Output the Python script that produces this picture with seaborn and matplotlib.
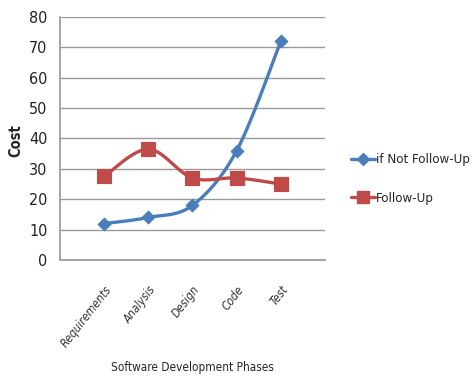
import numpy as np
import pandas as pd
import matplotlib
matplotlib.use("Agg")
import matplotlib.pyplot as plt
import seaborn as sns
from matplotlib.lines import Line2D
from matplotlib import font_manager

phases = ["Requirements", "Analysis", "Design", "Code", "Test"]
not_follow_up = [12, 14, 18, 36, 72]
follow_up = [27.5, 36.5, 27, 27, 25]
y_ticks = [0, 10, 20, 30, 40, 50, 60, 70, 80]

sns.set_theme(style="white")
cond = any(f.name == 'DejaVu Sans' and f.stretch == 'condensed' for f in font_manager.fontManager.ttflist)
if cond:
    plt.rcParams['font.family'] = ['DejaVu Sans']
    plt.rcParams['font.stretch'] = 'condensed'
else:
    plt.rcParams['font.family'] = ['Liberation Sans', 'DejaVu Sans']

df = pd.DataFrame({"Phase": phases, "if Not Follow-Up": not_follow_up, "Follow-Up": follow_up})
long = df.melt(id_vars="Phase", var_name="Series", value_name="Cost")
long["pos"] = long["Phase"].map({p: i for i, p in enumerate(phases)})

fig = plt.figure(figsize=(4.77, 3.78), dpi=100)
ax = fig.add_axes([60/477, 1-260/378, 265/477, 243/378])

blue = "#4a7ebb"
red = "#be4b48"

def smooth(xs, ys, n=30):
    xs = np.asarray(xs, float); ys = np.asarray(ys, float)
    P = np.column_stack([xs, ys])
    P = np.vstack([P[0], P, P[-1]])
    out = []
    for i in range(1, len(P) - 2):
        p0, p1, p2, p3 = P[i-1], P[i], P[i+1], P[i+2]
        t = np.linspace(0, 1, n)[:, None]
        c = 0.5 * ((2*p1) + (-p0 + p2)*t + (2*p0 - 5*p1 + 4*p2 - p3)*t**2 + (-p0 + 3*p1 - 3*p2 + p3)*t**3)
        out.append(c)
    c = np.vstack(out)
    return c[:, 0], c[:, 1]

for name, color in [("if Not Follow-Up", blue), ("Follow-Up", red)]:
    sub = long[long["Series"] == name]
    sx, sy = smooth(sub["pos"], sub["Cost"])
    ax.plot(sx, sy, color=color, lw=2.4, solid_capstyle="round", zorder=2)

sns.scatterplot(data=long[long["Series"] == "if Not Follow-Up"], x="pos", y="Cost",
                marker="D", s=45, color=blue, edgecolor=blue, ax=ax, zorder=3, legend=False)
sns.scatterplot(data=long[long["Series"] == "Follow-Up"], x="pos", y="Cost",
                marker="s", s=110, color=red, edgecolor=red, ax=ax, zorder=3, legend=False)

ax.set_xlim(-1, 5)
ax.set_ylim(0, 80)
ax.set_yticks(y_ticks)
ax.set_yticklabels([str(v) for v in y_ticks], fontsize=11.5, color="#222222")
ax.set_xticks(range(len(phases)))
ax.set_xticklabels(phases, rotation=52, ha="right", rotation_mode="anchor", fontsize=8.5,
                   style="italic", color="#333333")
ax.tick_params(axis="x", length=0, pad=17)
ax.tick_params(axis="y", length=0, pad=9)
ax.grid(axis="y", color="#9a9a9a", lw=1)
ax.set_axisbelow(True)
for s in ["top", "right"]:
    ax.spines[s].set_visible(False)
ax.spines["left"].set_color("#9a9a9a")
ax.spines["bottom"].set_color("#9a9a9a")
ax.set_ylabel("Cost", fontsize=10.5, fontweight="bold")
ax.yaxis.set_label_coords(-0.14, 0.49)
ax.set_xlabel("Software Development Phases", fontsize=8.5)
ax.xaxis.set_label_coords(0.5, -0.415)

handles = [Line2D([], [], color=blue, lw=2.4, marker="D", markersize=6),
           Line2D([], [], color=red, lw=2.4, marker="s", markersize=9)]
fig.legend(handles, ["if Not Follow-Up", "Follow-Up"], loc="center left",
           bbox_to_anchor=(351/477, 1-179/378), frameon=False, fontsize=9.5 if cond else 9,
           handlelength=1.8, handletextpad=0.1, labelspacing=1.9, borderaxespad=0, borderpad=0)

fig.savefig("out.png", dpi=100)
